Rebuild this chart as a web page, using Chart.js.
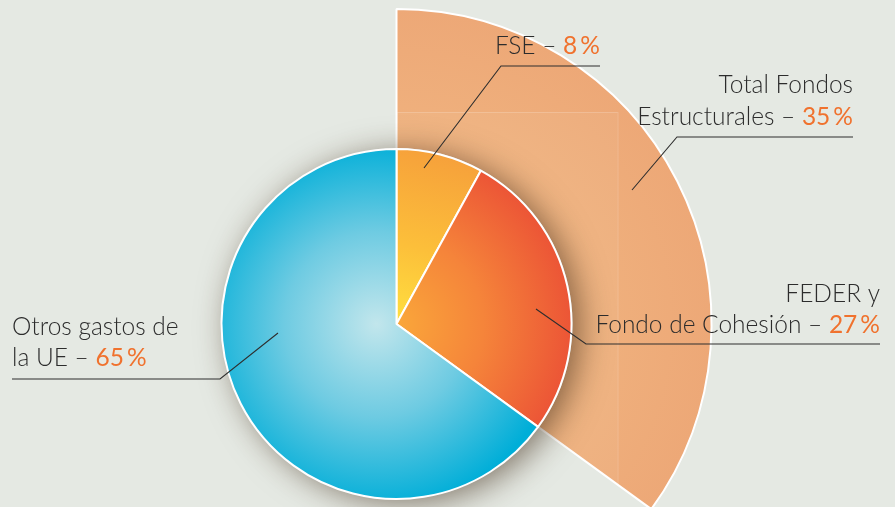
<!DOCTYPE html>
<html><head><meta charset="utf-8">
<script src="https://cdn.jsdelivr.net/npm/chart.js@4/dist/chart.umd.min.js"></script>
<style>
html,body{margin:0;padding:0;background:#e5e9e3;overflow:hidden;width:895px;height:507px;}
#wrap{position:absolute;left:0;top:0;width:895px;height:660px;}
</style></head><body>
<div id="wrap"><canvas id="c" width="895" height="660"></canvas></div>
<script>
// ---- data ----
const categories = ['FSE', 'FEDER y Fondo de Cohesión', 'Otros gastos de la UE'];
const shares = [8, 27, 65];
const totalCategories = ['Total Fondos Estructurales', ''];
const totalShares = [35, 65];
// label lines (last line gets " – NN %")
const labelLines = [
  ['FSE'],
  ['FEDER y', 'Fondo de Cohesión'],
  ['Otros gastos de', 'la UE']
];
const totalLabelLines = ['Total Fondos', 'Estructurales'];

// ---- layout ----
const R_OUT = 315, R_IN = 175;
const FONT = '300 24.5px Lato';
const FONT_NUM = '400 24.5px Lato';
const TXT = '#2c2c2c', ORANGE = '#f0722e';

function center(chart){const a=chart.chartArea;return {cx:(a.left+a.right)/2, cy:(a.top+a.bottom)/2};}

function innerColor(c){
  const chart=c.chart; if(!chart.chartArea) return '#f90';
  const {cx,cy}=center(chart); const ctx=chart.ctx; let g;
  if(c.dataIndex===0){
    g=ctx.createLinearGradient(cx-10,cy,cx+35,cy-R_IN);
    g.addColorStop(0,'#ffe13f');g.addColorStop(0.45,'#fcbf3a');g.addColorStop(1,'#f6a03b');
  } else if(c.dataIndex===1){
    g=ctx.createRadialGradient(cx,cy,0,cx,cy,R_IN);
    g.addColorStop(0,'#faa73a');g.addColorStop(0.5,'#f5843a');g.addColorStop(1,'#ec5536');
  } else {
    g=ctx.createRadialGradient(cx-20,cy,0,cx-20,cy,R_IN+10);
    g.addColorStop(0,'#c2e6ec');g.addColorStop(0.5,'#6ecbe2');g.addColorStop(1,'#00aed8');
  }
  return g;
}
function outerColor(c){
  if(c.dataIndex!==0) return 'rgba(0,0,0,0)';
  const chart=c.chart; if(!chart.chartArea) return '#eeab7a';
  const {cx,cy}=center(chart);
  const g=chart.ctx.createRadialGradient(cx,cy,R_IN,cx,cy,R_OUT);
  g.addColorStop(0,'#f0b27e');g.addColorStop(1,'#eda877');
  return g;
}

const deco = {
  id:'deco',
  afterDatasetDraw(chart,args){
    if(args.index!==0) return;
    const el=chart.getDatasetMeta(0).data[0]; const ctx=chart.ctx;
    ctx.save();
    ctx.beginPath(); ctx.moveTo(el.x,el.y);
    ctx.arc(el.x,el.y,el.outerRadius-2,el.startAngle,el.endAngle); ctx.closePath(); ctx.clip();
    ctx.fillStyle='rgba(255,255,255,0.05)';
    ctx.fillRect(el.x,112,221,420);
    ctx.strokeStyle='rgba(255,255,255,0.18)'; ctx.lineWidth=1;
    ctx.strokeRect(el.x+0.5,112.5,221,420);
    ctx.restore();
  },
  beforeDatasetDraw(chart,args){
    if(args.index!==1) return;
    const meta=chart.getDatasetMeta(1); const el=meta.data[0]; const ctx=chart.ctx;
    ctx.save();
    ctx.shadowColor='rgba(60,40,20,0.6)'; ctx.shadowBlur=32; ctx.shadowOffsetX=8; ctx.shadowOffsetY=4;
    ctx.fillStyle='#e5e9e3';
    ctx.beginPath(); ctx.arc(el.x,el.y,el.outerRadius,0,Math.PI*2); ctx.fill();
    ctx.restore();
  },
  afterDraw(chart){
    const ctx=chart.ctx;
    ctx.save();
    ctx.strokeStyle='#2e2e2e'; ctx.lineWidth=1.1;
    const leaders=[
      [[424,168],[501,66],[600,66]],
      [[632,190],[677,137],[853,137]],
      [[536,309],[586,344],[880,344]],
      [[278,333],[220,379],[12,379]]
    ];
    leaders.forEach(p=>{ctx.beginPath();ctx.moveTo(p[0][0],p[0][1]);for(let i=1;i<p.length;i++)ctx.lineTo(p[i][0],p[i][1]);ctx.stroke();});
    ctx.textBaseline='alphabetic'; ctx.textAlign='left';
    function block(lines,pct,x,y,align,lh){
      lines.forEach((ln,i)=>{
        const yy=y+i*lh; const last=i===lines.length-1;
        const a=last?ln+' – ':ln; const b=last?pct+'\u2009%':'';
        ctx.font=FONT; const wa=ctx.measureText(a).width;
        ctx.font=FONT_NUM; const wb=ctx.measureText(b).width;
        let x0 = align==='right'? x-wa-wb : x;
        ctx.font=FONT; ctx.fillStyle=TXT; ctx.fillText(a,x0,yy);
        if(b){ctx.font=FONT_NUM; ctx.fillStyle=ORANGE; ctx.fillText(b,x0+wa,yy);}
      });
    }
    block(labelLines[0],shares[0],600,54,'right',31);
    block(totalLabelLines,totalShares[0],853,93,'right',32);
    block(labelLines[1],shares[1],880,302,'right',31);
    block(labelLines[2],shares[2],12,335,'left',31);
    ctx.restore();
  }
};

new Chart(document.getElementById('c'),{
  type:'pie',
  data:{
    labels:categories,
    datasets:[
      {label:'Total', data:totalShares, backgroundColor:outerColor, borderColor:['#ffffff','rgba(0,0,0,0)'], borderWidth:[2,0], weight:R_OUT-R_IN, order:1, hoverOffset:0},
      {label:'Reparto', data:shares, backgroundColor:innerColor, borderColor:'#ffffff', borderWidth:2, weight:R_IN, order:0, hoverOffset:0}
    ]
  },
  options:{
    responsive:false, animation:false, radius:R_OUT,
    layout:{padding:{left:82,right:184,top:9,bottom:21}},
    plugins:{legend:{display:false},tooltip:{enabled:false}},
    events:[]
  },
  plugins:[deco]
});
</script>
</body></html>
